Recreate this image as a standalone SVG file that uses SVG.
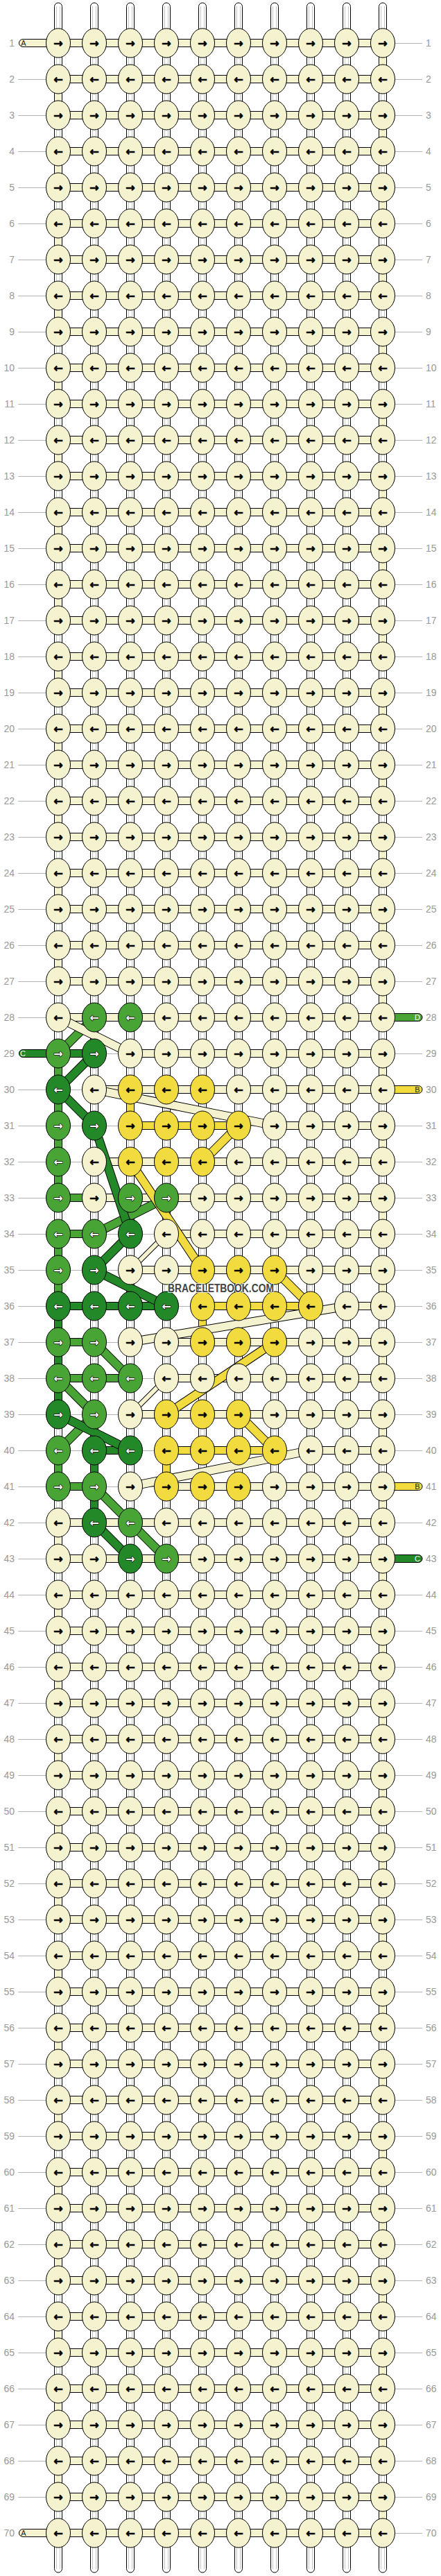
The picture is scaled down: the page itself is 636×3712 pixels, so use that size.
<svg xmlns="http://www.w3.org/2000/svg" width="636" height="3712" viewBox="0 0 636 3712">
<style>
.k{stroke:#000;stroke-width:1}
.c{fill:#F5F2CF}.y{fill:#F1DB3E}.g{fill:#48A434}.d{fill:#228828}
.a{font-family:'DejaVu Sans',sans-serif;font-size:16px;font-weight:bold;text-anchor:middle;fill:#000;stroke:#000;stroke-width:0.7px}
.w{fill:#fff;stroke:#1a1a1a;stroke-width:1.6px;paint-order:stroke;stroke-linejoin:round}
.tb{fill:#fff;stroke:#000;stroke-width:1}
.tl{stroke:#c8c8c8;stroke-width:1;fill:none}
.ld{stroke:#b4b4b4;stroke-width:1;fill:none}
.o{stroke:#000;stroke-width:13}
.ot{stroke:#000;stroke-width:8}
.sc{stroke:#F5F2CF;stroke-width:11}
.sy{stroke:#F1DB3E;stroke-width:11}
.sg{stroke:#48A434;stroke-width:11}
.sd{stroke:#228828;stroke-width:11}
.st{stroke:#F5F2CF;stroke-width:6}
.n{font-family:'Liberation Sans',Arial,sans-serif;font-size:14px;fill:#999}
.nl{text-anchor:end}
.lb{font-family:'Liberation Sans',Arial,sans-serif;font-size:11px;text-anchor:middle}
.wm{font-family:'Liberation Sans',Arial,sans-serif;font-size:16px;font-weight:bold;fill:#444;stroke:#fff;stroke-width:1.5px;paint-order:stroke}
</style>
<defs>
<g id="cR"><ellipse class="k c" rx="17.5" ry="21"/><text class="a" y="5.5">→</text></g>
<g id="cL"><ellipse class="k c" rx="17.5" ry="21"/><text class="a" y="5.5">←</text></g>
<g id="yR"><ellipse class="k y" rx="17.5" ry="21"/><text class="a" y="5.5">→</text></g>
<g id="yL"><ellipse class="k y" rx="17.5" ry="21"/><text class="a" y="5.5">←</text></g>
<g id="gR"><ellipse class="k g" rx="17.5" ry="21"/><text class="a w" y="5.5">→</text></g>
<g id="gL"><ellipse class="k g" rx="17.5" ry="21"/><text class="a w" y="5.5">←</text></g>
<g id="dR"><ellipse class="k d" rx="17.5" ry="21"/><text class="a w" y="5.5">→</text></g>
<g id="dL"><ellipse class="k d" rx="17.5" ry="21"/><text class="a w" y="5.5">←</text></g>
<rect id="vc" class="k c" x="-5.5" y="14" width="11" height="24"/>
<rect id="vg" class="k g" x="-5.5" y="14" width="11" height="24"/>
<rect id="vd" class="k d" x="-5.5" y="14" width="11" height="24"/>
<rect id="vy" class="k y" x="-5.5" y="14" width="11" height="24"/>
<g id="rowR"><rect class="k c" x="84" y="-5.5" width="468" height="11"/><use href="#cR" x="84"/><use href="#cR" x="136"/><use href="#cR" x="188"/><use href="#cR" x="240"/><use href="#cR" x="292"/><use href="#cR" x="344"/><use href="#cR" x="396"/><use href="#cR" x="448"/><use href="#cR" x="500"/><use href="#cR" x="552"/></g>
<g id="rowL"><rect class="k c" x="84" y="-5.5" width="468" height="11"/><use href="#cL" x="84"/><use href="#cL" x="136"/><use href="#cL" x="188"/><use href="#cL" x="240"/><use href="#cL" x="292"/><use href="#cL" x="344"/><use href="#cL" x="396"/><use href="#cL" x="448"/><use href="#cL" x="500"/><use href="#cL" x="552"/></g>
</defs>

<g id="connectors">
<path class="ld" d="M84 62.5h525M26 114.5h583M26 166.5h583M26 218.5h583M26 270.5h583M26 322.5h583M26 374.5h583M26 426.5h583M26 478.5h583M26 530.5h583M26 582.5h583M26 634.5h583M26 686.5h583M26 738.5h583M26 790.5h583M26 842.5h583M26 894.5h583M26 946.5h583M26 998.5h583M26 1050.5h583M26 1102.5h583M26 1154.5h583M26 1206.5h583M26 1258.5h583M26 1310.5h583M26 1362.5h583M26 1414.5h583M26 1466.5h526M84 1518.5h525M26 1570.5h526M26 1622.5h583M26 1674.5h583M26 1726.5h583M26 1778.5h583M26 1830.5h583M26 1882.5h583M26 1934.5h583M26 1986.5h583M26 2038.5h583M26 2090.5h583M26 2142.5h526M26 2194.5h583M26 2246.5h526M26 2298.5h583M26 2350.5h583M26 2402.5h583M26 2454.5h583M26 2506.5h583M26 2558.5h583M26 2610.5h583M26 2662.5h583M26 2714.5h583M26 2766.5h583M26 2818.5h583M26 2870.5h583M26 2922.5h583M26 2974.5h583M26 3026.5h583M26 3078.5h583M26 3130.5h583M26 3182.5h583M26 3234.5h583M26 3286.5h583M26 3338.5h583M26 3390.5h583M26 3442.5h583M26 3494.5h583M26 3546.5h583M26 3598.5h583M84 3650.5h525"/>
<g id="vertical-strings">
<rect class="tb" x="78.5" y="4" width="11" height="3703" rx="5.5"/>
<rect class="tb" x="130.5" y="4" width="11" height="3703" rx="5.5"/>
<rect class="tb" x="182.5" y="4" width="11" height="3703" rx="5.5"/>
<rect class="tb" x="234.5" y="4" width="11" height="3703" rx="5.5"/>
<rect class="tb" x="286.5" y="4" width="11" height="3703" rx="5.5"/>
<rect class="tb" x="338.5" y="4" width="11" height="3703" rx="5.5"/>
<rect class="tb" x="390.5" y="4" width="11" height="3703" rx="5.5"/>
<rect class="tb" x="442.5" y="4" width="11" height="3703" rx="5.5"/>
<rect class="tb" x="494.5" y="4" width="11" height="3703" rx="5.5"/>
<rect class="tb" x="546.5" y="4" width="11" height="3703" rx="5.5"/>
<path class="tl" d="M81.5 9V3702M86.5 9V3702M133.5 9V3702M138.5 9V3702M185.5 9V3702M190.5 9V3702M237.5 9V3702M242.5 9V3702M289.5 9V3702M294.5 9V3702M341.5 9V3702M346.5 9V3702M393.5 9V3702M398.5 9V3702M445.5 9V3702M450.5 9V3702M497.5 9V3702M502.5 9V3702M549.5 9V3702M554.5 9V3702"/>
</g>
<g id="turns">
<g transform="translate(552 0)"><use href="#vc" y="62"/><use href="#vc" y="166"/><use href="#vc" y="270"/><use href="#vc" y="374"/><use href="#vc" y="478"/><use href="#vc" y="582"/><use href="#vc" y="686"/><use href="#vc" y="790"/><use href="#vc" y="894"/><use href="#vc" y="998"/><use href="#vc" y="1102"/><use href="#vc" y="1206"/><use href="#vc" y="1310"/><use href="#vc" y="1414"/><use href="#vc" y="1518"/><use href="#vc" y="1622"/><use href="#vc" y="1726"/><use href="#vc" y="1830"/><use href="#vc" y="1934"/><use href="#vc" y="2038"/><use href="#vc" y="2142"/><use href="#vc" y="2246"/><use href="#vc" y="2350"/><use href="#vc" y="2454"/><use href="#vc" y="2558"/><use href="#vc" y="2662"/><use href="#vc" y="2766"/><use href="#vc" y="2870"/><use href="#vc" y="2974"/><use href="#vc" y="3078"/><use href="#vc" y="3182"/><use href="#vc" y="3286"/><use href="#vc" y="3390"/><use href="#vc" y="3494"/><use href="#vc" y="3598"/></g>
<g transform="translate(84 0)"><use href="#vc" y="114"/><use href="#vc" y="218"/><use href="#vc" y="322"/><use href="#vc" y="426"/><use href="#vc" y="530"/><use href="#vc" y="634"/><use href="#vc" y="738"/><use href="#vc" y="842"/><use href="#vc" y="946"/><use href="#vc" y="1050"/><use href="#vc" y="1154"/><use href="#vc" y="1258"/><use href="#vc" y="1362"/><use href="#vc" y="2194"/><use href="#vc" y="2298"/><use href="#vc" y="2402"/><use href="#vc" y="2506"/><use href="#vc" y="2610"/><use href="#vc" y="2714"/><use href="#vc" y="2818"/><use href="#vc" y="2922"/><use href="#vc" y="3026"/><use href="#vc" y="3130"/><use href="#vc" y="3234"/><use href="#vc" y="3338"/><use href="#vc" y="3442"/><use href="#vc" y="3546"/>
<use href="#vg" y="1518"/><use href="#vg" y="1570"/><use href="#vg" y="1622"/><use href="#vg" y="1674"/><use href="#vg" y="1778"/><use href="#vg" y="1830"/><use href="#vg" y="2090"/><use href="#vd" y="1882"/><use href="#vd" y="1934"/><use href="#vd" y="1986"/></g>
<use href="#vd" x="136" y="2090"/><use href="#vd" x="136" y="2142"/>
<use href="#vy" x="188" y="1570"/><use href="#vy" x="292" y="1882"/><use href="#vy" x="240" y="2090"/>
</g>
<g id="end-strands">
<rect class="k c" x="27.5" y="56.5" width="62" height="11" rx="5.5"/>
<rect class="k d" x="27.5" y="1512.5" width="62" height="11" rx="5.5"/>
<rect class="k c" x="27.5" y="3644.5" width="62" height="11" rx="5.5"/>
<rect class="k g" x="547" y="1460.5" width="62" height="11" rx="5.5"/>
<rect class="k y" x="547" y="1564.5" width="62" height="11" rx="5.5"/>
<rect class="k y" x="547" y="2136.5" width="62" height="11" rx="5.5"/>
<rect class="k d" x="547" y="2240.5" width="62" height="11" rx="5.5"/>
</g>
<g id="row-links">
<rect class="k c" x="84" y="1460.5" width="468" height="11"/>
<rect class="k d" x="84" y="1512.5" width="52" height="11"/><rect class="k c" x="188" y="1512.5" width="364" height="11"/>
<rect class="k c" x="136" y="1564.5" width="416" height="11"/>
<rect class="k y" x="188" y="1616.5" width="156" height="11"/><rect class="k c" x="396" y="1616.5" width="156" height="11"/>
<rect class="k c" x="136" y="1668.5" width="416" height="11"/>
<rect class="k g" x="84" y="1720.5" width="52" height="11"/><rect class="k c" x="136" y="1720.5" width="416" height="11"/>
<rect class="k g" x="84" y="1772.5" width="52" height="11"/><rect class="k c" x="240" y="1772.5" width="312" height="11"/>
<rect class="k c" x="188" y="1824.5" width="364" height="11"/>
<rect class="k d" x="84" y="1876.5" width="156" height="11"/><rect class="k y" x="292" y="1876.5" width="156" height="11"/><rect class="k c" x="500" y="1876.5" width="52" height="11"/>
<rect class="k g" x="84" y="1928.5" width="52" height="11"/><rect class="k c" x="240" y="1928.5" width="312" height="11"/>
<rect class="k g" x="84" y="1980.5" width="104" height="11"/><rect class="k c" x="240" y="1980.5" width="312" height="11"/>
<rect class="k c" x="188" y="2032.5" width="364" height="11"/>
<rect class="k d" x="136" y="2084.5" width="52" height="11"/><rect class="k y" x="240" y="2084.5" width="156" height="11"/><rect class="k c" x="448" y="2084.5" width="104" height="11"/>
<rect class="k g" x="84" y="2136.5" width="52" height="11"/><rect class="k c" x="240" y="2136.5" width="312" height="11"/>
<rect class="k c" x="84" y="2188.5" width="468" height="11"/>
<rect class="k c" x="84" y="2240.5" width="468" height="11"/>
</g>
<g id="diagonals">
<line class="o" x1="84" y1="1518" x2="136" y2="1466"/><line class="sg" x1="84" y1="1518" x2="136" y2="1466"/>
<line class="o" x1="84" y1="1466" x2="188" y2="1518"/><line class="sc" x1="84" y1="1466" x2="188" y2="1518"/>
<line class="o" x1="136" y1="1518" x2="84" y2="1570"/><line class="sd" x1="136" y1="1518" x2="84" y2="1570"/>
<line class="o" x1="84" y1="1570" x2="136" y2="1622"/><line class="sd" x1="84" y1="1570" x2="136" y2="1622"/>
<line class="o" x1="136" y1="1570" x2="396" y2="1622"/><line class="sc" x1="136" y1="1570" x2="396" y2="1622"/>
<line class="o" x1="240" y1="1726" x2="136" y2="1778"/><line class="sg" x1="240" y1="1726" x2="136" y2="1778"/>
<line class="o" x1="136" y1="1622" x2="188" y2="1778"/><line class="sd" x1="136" y1="1622" x2="188" y2="1778"/>
<line class="o" x1="344" y1="1622" x2="292" y2="1674"/><line class="sy" x1="344" y1="1622" x2="292" y2="1674"/>
<line class="o" x1="188" y1="1674" x2="292" y2="1830"/><line class="sy" x1="188" y1="1674" x2="292" y2="1830"/>
<line class="o" x1="188" y1="1778" x2="136" y2="1830"/><line class="sd" x1="188" y1="1778" x2="136" y2="1830"/>
<line class="ot" x1="240" y1="1778" x2="188" y2="1830"/><line class="st" x1="240" y1="1778" x2="188" y2="1830"/>
<line class="o" x1="136" y1="1830" x2="240" y2="1882"/><line class="sd" x1="136" y1="1830" x2="240" y2="1882"/>
<line class="o" x1="396" y1="1830" x2="448" y2="1882"/><line class="sy" x1="396" y1="1830" x2="448" y2="1882"/>
<line class="o" x1="500" y1="1882" x2="188" y2="1934"/><line class="sc" x1="500" y1="1882" x2="188" y2="1934"/>
<line class="o" x1="136" y1="1934" x2="188" y2="1986"/><line class="sg" x1="136" y1="1934" x2="188" y2="1986"/>
<line class="o" x1="396" y1="1934" x2="240" y2="2038"/><line class="sy" x1="396" y1="1934" x2="240" y2="2038"/>
<line class="o" x1="84" y1="1986" x2="136" y2="2038"/><line class="sg" x1="84" y1="1986" x2="136" y2="2038"/>
<line class="ot" x1="240" y1="1986" x2="188" y2="2038"/><line class="st" x1="240" y1="1986" x2="188" y2="2038"/>
<line class="o" x1="136" y1="2038" x2="84" y2="2090"/><line class="sg" x1="136" y1="2038" x2="84" y2="2090"/>
<line class="o" x1="84" y1="2038" x2="188" y2="2090"/><line class="sd" x1="84" y1="2038" x2="188" y2="2090"/>
<line class="o" x1="344" y1="2038" x2="396" y2="2090"/><line class="sy" x1="344" y1="2038" x2="396" y2="2090"/>
<line class="o" x1="448" y1="2090" x2="188" y2="2142"/><line class="sc" x1="448" y1="2090" x2="188" y2="2142"/>
<line class="o" x1="136" y1="2142" x2="188" y2="2194"/><line class="sg" x1="136" y1="2142" x2="188" y2="2194"/>
<line class="o" x1="136" y1="2194" x2="188" y2="2246"/><line class="sd" x1="136" y1="2194" x2="188" y2="2246"/>
<line class="o" x1="188" y1="2194" x2="240" y2="2246"/><line class="sg" x1="188" y1="2194" x2="240" y2="2246"/>
</g>
</g>

<g id="knots">
<use id="row-1" href="#rowR" y="62"/>
<use id="row-2" href="#rowL" y="114"/>
<use id="row-3" href="#rowR" y="166"/>
<use id="row-4" href="#rowL" y="218"/>
<use id="row-5" href="#rowR" y="270"/>
<use id="row-6" href="#rowL" y="322"/>
<use id="row-7" href="#rowR" y="374"/>
<use id="row-8" href="#rowL" y="426"/>
<use id="row-9" href="#rowR" y="478"/>
<use id="row-10" href="#rowL" y="530"/>
<use id="row-11" href="#rowR" y="582"/>
<use id="row-12" href="#rowL" y="634"/>
<use id="row-13" href="#rowR" y="686"/>
<use id="row-14" href="#rowL" y="738"/>
<use id="row-15" href="#rowR" y="790"/>
<use id="row-16" href="#rowL" y="842"/>
<use id="row-17" href="#rowR" y="894"/>
<use id="row-18" href="#rowL" y="946"/>
<use id="row-19" href="#rowR" y="998"/>
<use id="row-20" href="#rowL" y="1050"/>
<use id="row-21" href="#rowR" y="1102"/>
<use id="row-22" href="#rowL" y="1154"/>
<use id="row-23" href="#rowR" y="1206"/>
<use id="row-24" href="#rowL" y="1258"/>
<use id="row-25" href="#rowR" y="1310"/>
<use id="row-26" href="#rowL" y="1362"/>
<use id="row-27" href="#rowR" y="1414"/>
<g id="row-28" transform="translate(0 1466)"><use href="#cL" x="84"/><use href="#gL" x="136"/><use href="#gL" x="188"/><use href="#cL" x="240"/><use href="#cL" x="292"/><use href="#cL" x="344"/><use href="#cL" x="396"/><use href="#cL" x="448"/><use href="#cL" x="500"/><use href="#cL" x="552"/></g>
<g id="row-29" transform="translate(0 1518)"><use href="#gR" x="84"/><use href="#dR" x="136"/><use href="#cR" x="188"/><use href="#cR" x="240"/><use href="#cR" x="292"/><use href="#cR" x="344"/><use href="#cR" x="396"/><use href="#cR" x="448"/><use href="#cR" x="500"/><use href="#cR" x="552"/></g>
<g id="row-30" transform="translate(0 1570)"><use href="#dL" x="84"/><use href="#cL" x="136"/><use href="#yL" x="188"/><use href="#yL" x="240"/><use href="#yL" x="292"/><use href="#cL" x="344"/><use href="#cL" x="396"/><use href="#cL" x="448"/><use href="#cL" x="500"/><use href="#cL" x="552"/></g>
<g id="row-31" transform="translate(0 1622)"><use href="#gR" x="84"/><use href="#dR" x="136"/><use href="#yR" x="188"/><use href="#yR" x="240"/><use href="#yR" x="292"/><use href="#yR" x="344"/><use href="#cR" x="396"/><use href="#cR" x="448"/><use href="#cR" x="500"/><use href="#cR" x="552"/></g>
<g id="row-32" transform="translate(0 1674)"><use href="#gL" x="84"/><use href="#cL" x="136"/><use href="#yL" x="188"/><use href="#yL" x="240"/><use href="#yL" x="292"/><use href="#cL" x="344"/><use href="#cL" x="396"/><use href="#cL" x="448"/><use href="#cL" x="500"/><use href="#cL" x="552"/></g>
<g id="row-33" transform="translate(0 1726)"><use href="#gR" x="84"/><use href="#cR" x="136"/><use href="#gR" x="188"/><use href="#gR" x="240"/><use href="#cR" x="292"/><use href="#cR" x="344"/><use href="#cR" x="396"/><use href="#cR" x="448"/><use href="#cR" x="500"/><use href="#cR" x="552"/></g>
<g id="row-34" transform="translate(0 1778)"><use href="#gL" x="84"/><use href="#gL" x="136"/><use href="#dL" x="188"/><use href="#cL" x="240"/><use href="#cL" x="292"/><use href="#cL" x="344"/><use href="#cL" x="396"/><use href="#cL" x="448"/><use href="#cL" x="500"/><use href="#cL" x="552"/></g>
<g id="row-35" transform="translate(0 1830)"><use href="#gR" x="84"/><use href="#dR" x="136"/><use href="#cR" x="188"/><use href="#cR" x="240"/><use href="#yR" x="292"/><use href="#yR" x="344"/><use href="#yR" x="396"/><use href="#cR" x="448"/><use href="#cR" x="500"/><use href="#cR" x="552"/></g>
<g id="row-36" transform="translate(0 1882)"><use href="#dL" x="84"/><use href="#dL" x="136"/><use href="#dL" x="188"/><use href="#dL" x="240"/><use href="#yL" x="292"/><use href="#yL" x="344"/><use href="#yL" x="396"/><use href="#yL" x="448"/><use href="#cL" x="500"/><use href="#cL" x="552"/></g>
<g id="row-37" transform="translate(0 1934)"><use href="#gR" x="84"/><use href="#gR" x="136"/><use href="#cR" x="188"/><use href="#cR" x="240"/><use href="#yR" x="292"/><use href="#yR" x="344"/><use href="#yR" x="396"/><use href="#cR" x="448"/><use href="#cR" x="500"/><use href="#cR" x="552"/></g>
<g id="row-38" transform="translate(0 1986)"><use href="#gL" x="84"/><use href="#gL" x="136"/><use href="#gL" x="188"/><use href="#cL" x="240"/><use href="#cL" x="292"/><use href="#cL" x="344"/><use href="#cL" x="396"/><use href="#cL" x="448"/><use href="#cL" x="500"/><use href="#cL" x="552"/></g>
<g id="row-39" transform="translate(0 2038)"><use href="#dR" x="84"/><use href="#gR" x="136"/><use href="#cR" x="188"/><use href="#yR" x="240"/><use href="#yR" x="292"/><use href="#yR" x="344"/><use href="#cR" x="396"/><use href="#cR" x="448"/><use href="#cR" x="500"/><use href="#cR" x="552"/></g>
<g id="row-40" transform="translate(0 2090)"><use href="#gL" x="84"/><use href="#dL" x="136"/><use href="#dL" x="188"/><use href="#yL" x="240"/><use href="#yL" x="292"/><use href="#yL" x="344"/><use href="#yL" x="396"/><use href="#cL" x="448"/><use href="#cL" x="500"/><use href="#cL" x="552"/></g>
<g id="row-41" transform="translate(0 2142)"><use href="#gR" x="84"/><use href="#gR" x="136"/><use href="#cR" x="188"/><use href="#yR" x="240"/><use href="#yR" x="292"/><use href="#yR" x="344"/><use href="#cR" x="396"/><use href="#cR" x="448"/><use href="#cR" x="500"/><use href="#cR" x="552"/></g>
<g id="row-42" transform="translate(0 2194)"><use href="#cL" x="84"/><use href="#dL" x="136"/><use href="#gL" x="188"/><use href="#cL" x="240"/><use href="#cL" x="292"/><use href="#cL" x="344"/><use href="#cL" x="396"/><use href="#cL" x="448"/><use href="#cL" x="500"/><use href="#cL" x="552"/></g>
<g id="row-43" transform="translate(0 2246)"><use href="#cR" x="84"/><use href="#cR" x="136"/><use href="#dR" x="188"/><use href="#gR" x="240"/><use href="#cR" x="292"/><use href="#cR" x="344"/><use href="#cR" x="396"/><use href="#cR" x="448"/><use href="#cR" x="500"/><use href="#cR" x="552"/></g>
<use id="row-44" href="#rowL" y="2298"/>
<use id="row-45" href="#rowR" y="2350"/>
<use id="row-46" href="#rowL" y="2402"/>
<use id="row-47" href="#rowR" y="2454"/>
<use id="row-48" href="#rowL" y="2506"/>
<use id="row-49" href="#rowR" y="2558"/>
<use id="row-50" href="#rowL" y="2610"/>
<use id="row-51" href="#rowR" y="2662"/>
<use id="row-52" href="#rowL" y="2714"/>
<use id="row-53" href="#rowR" y="2766"/>
<use id="row-54" href="#rowL" y="2818"/>
<use id="row-55" href="#rowR" y="2870"/>
<use id="row-56" href="#rowL" y="2922"/>
<use id="row-57" href="#rowR" y="2974"/>
<use id="row-58" href="#rowL" y="3026"/>
<use id="row-59" href="#rowR" y="3078"/>
<use id="row-60" href="#rowL" y="3130"/>
<use id="row-61" href="#rowR" y="3182"/>
<use id="row-62" href="#rowL" y="3234"/>
<use id="row-63" href="#rowR" y="3286"/>
<use id="row-64" href="#rowL" y="3338"/>
<use id="row-65" href="#rowR" y="3390"/>
<use id="row-66" href="#rowL" y="3442"/>
<use id="row-67" href="#rowR" y="3494"/>
<use id="row-68" href="#rowL" y="3546"/>
<use id="row-69" href="#rowR" y="3598"/>
<use id="row-70" href="#rowL" y="3650"/>
</g>

<g id="strand-labels" class="lb">
<text x="34" y="66" fill="#222">A</text>
<text x="33" y="1522" fill="#fff">C</text>
<text x="34" y="3654" fill="#222">A</text>
<text x="602" y="1470" fill="#fff">D</text>
<text x="602" y="1574" fill="#222">B</text>
<text x="602" y="2146" fill="#222">B</text>
<text x="602" y="2250" fill="#fff">C</text>
</g>

<g id="row-numbers-left" class="n nl" transform="translate(21 5)">
<text y="62">1</text><text y="114">2</text><text y="166">3</text><text y="218">4</text><text y="270">5</text><text y="322">6</text><text y="374">7</text><text y="426">8</text><text y="478">9</text><text y="530">10</text><text y="582">11</text><text y="634">12</text><text y="686">13</text><text y="738">14</text><text y="790">15</text><text y="842">16</text><text y="894">17</text><text y="946">18</text><text y="998">19</text><text y="1050">20</text><text y="1102">21</text><text y="1154">22</text><text y="1206">23</text><text y="1258">24</text><text y="1310">25</text><text y="1362">26</text><text y="1414">27</text><text y="1466">28</text><text y="1518">29</text><text y="1570">30</text><text y="1622">31</text><text y="1674">32</text><text y="1726">33</text><text y="1778">34</text><text y="1830">35</text><text y="1882">36</text><text y="1934">37</text><text y="1986">38</text><text y="2038">39</text><text y="2090">40</text><text y="2142">41</text><text y="2194">42</text><text y="2246">43</text><text y="2298">44</text><text y="2350">45</text><text y="2402">46</text><text y="2454">47</text><text y="2506">48</text><text y="2558">49</text><text y="2610">50</text><text y="2662">51</text><text y="2714">52</text><text y="2766">53</text><text y="2818">54</text><text y="2870">55</text><text y="2922">56</text><text y="2974">57</text><text y="3026">58</text><text y="3078">59</text><text y="3130">60</text><text y="3182">61</text><text y="3234">62</text><text y="3286">63</text><text y="3338">64</text><text y="3390">65</text><text y="3442">66</text><text y="3494">67</text><text y="3546">68</text><text y="3598">69</text><text y="3650">70</text>
</g>
<g id="row-numbers-right" class="n" transform="translate(614 5)">
<text y="62">1</text><text y="114">2</text><text y="166">3</text><text y="218">4</text><text y="270">5</text><text y="322">6</text><text y="374">7</text><text y="426">8</text><text y="478">9</text><text y="530">10</text><text y="582">11</text><text y="634">12</text><text y="686">13</text><text y="738">14</text><text y="790">15</text><text y="842">16</text><text y="894">17</text><text y="946">18</text><text y="998">19</text><text y="1050">20</text><text y="1102">21</text><text y="1154">22</text><text y="1206">23</text><text y="1258">24</text><text y="1310">25</text><text y="1362">26</text><text y="1414">27</text><text y="1466">28</text><text y="1518">29</text><text y="1570">30</text><text y="1622">31</text><text y="1674">32</text><text y="1726">33</text><text y="1778">34</text><text y="1830">35</text><text y="1882">36</text><text y="1934">37</text><text y="1986">38</text><text y="2038">39</text><text y="2090">40</text><text y="2142">41</text><text y="2194">42</text><text y="2246">43</text><text y="2298">44</text><text y="2350">45</text><text y="2402">46</text><text y="2454">47</text><text y="2506">48</text><text y="2558">49</text><text y="2610">50</text><text y="2662">51</text><text y="2714">52</text><text y="2766">53</text><text y="2818">54</text><text y="2870">55</text><text y="2922">56</text><text y="2974">57</text><text y="3026">58</text><text y="3078">59</text><text y="3130">60</text><text y="3182">61</text><text y="3234">62</text><text y="3286">63</text><text y="3338">64</text><text y="3390">65</text><text y="3442">66</text><text y="3494">67</text><text y="3546">68</text><text y="3598">69</text><text y="3650">70</text>
</g>

<text id="watermark" class="wm" x="242" y="1862" textLength="153" lengthAdjust="spacingAndGlyphs">BRACELETBOOK.COM</text>
</svg>
